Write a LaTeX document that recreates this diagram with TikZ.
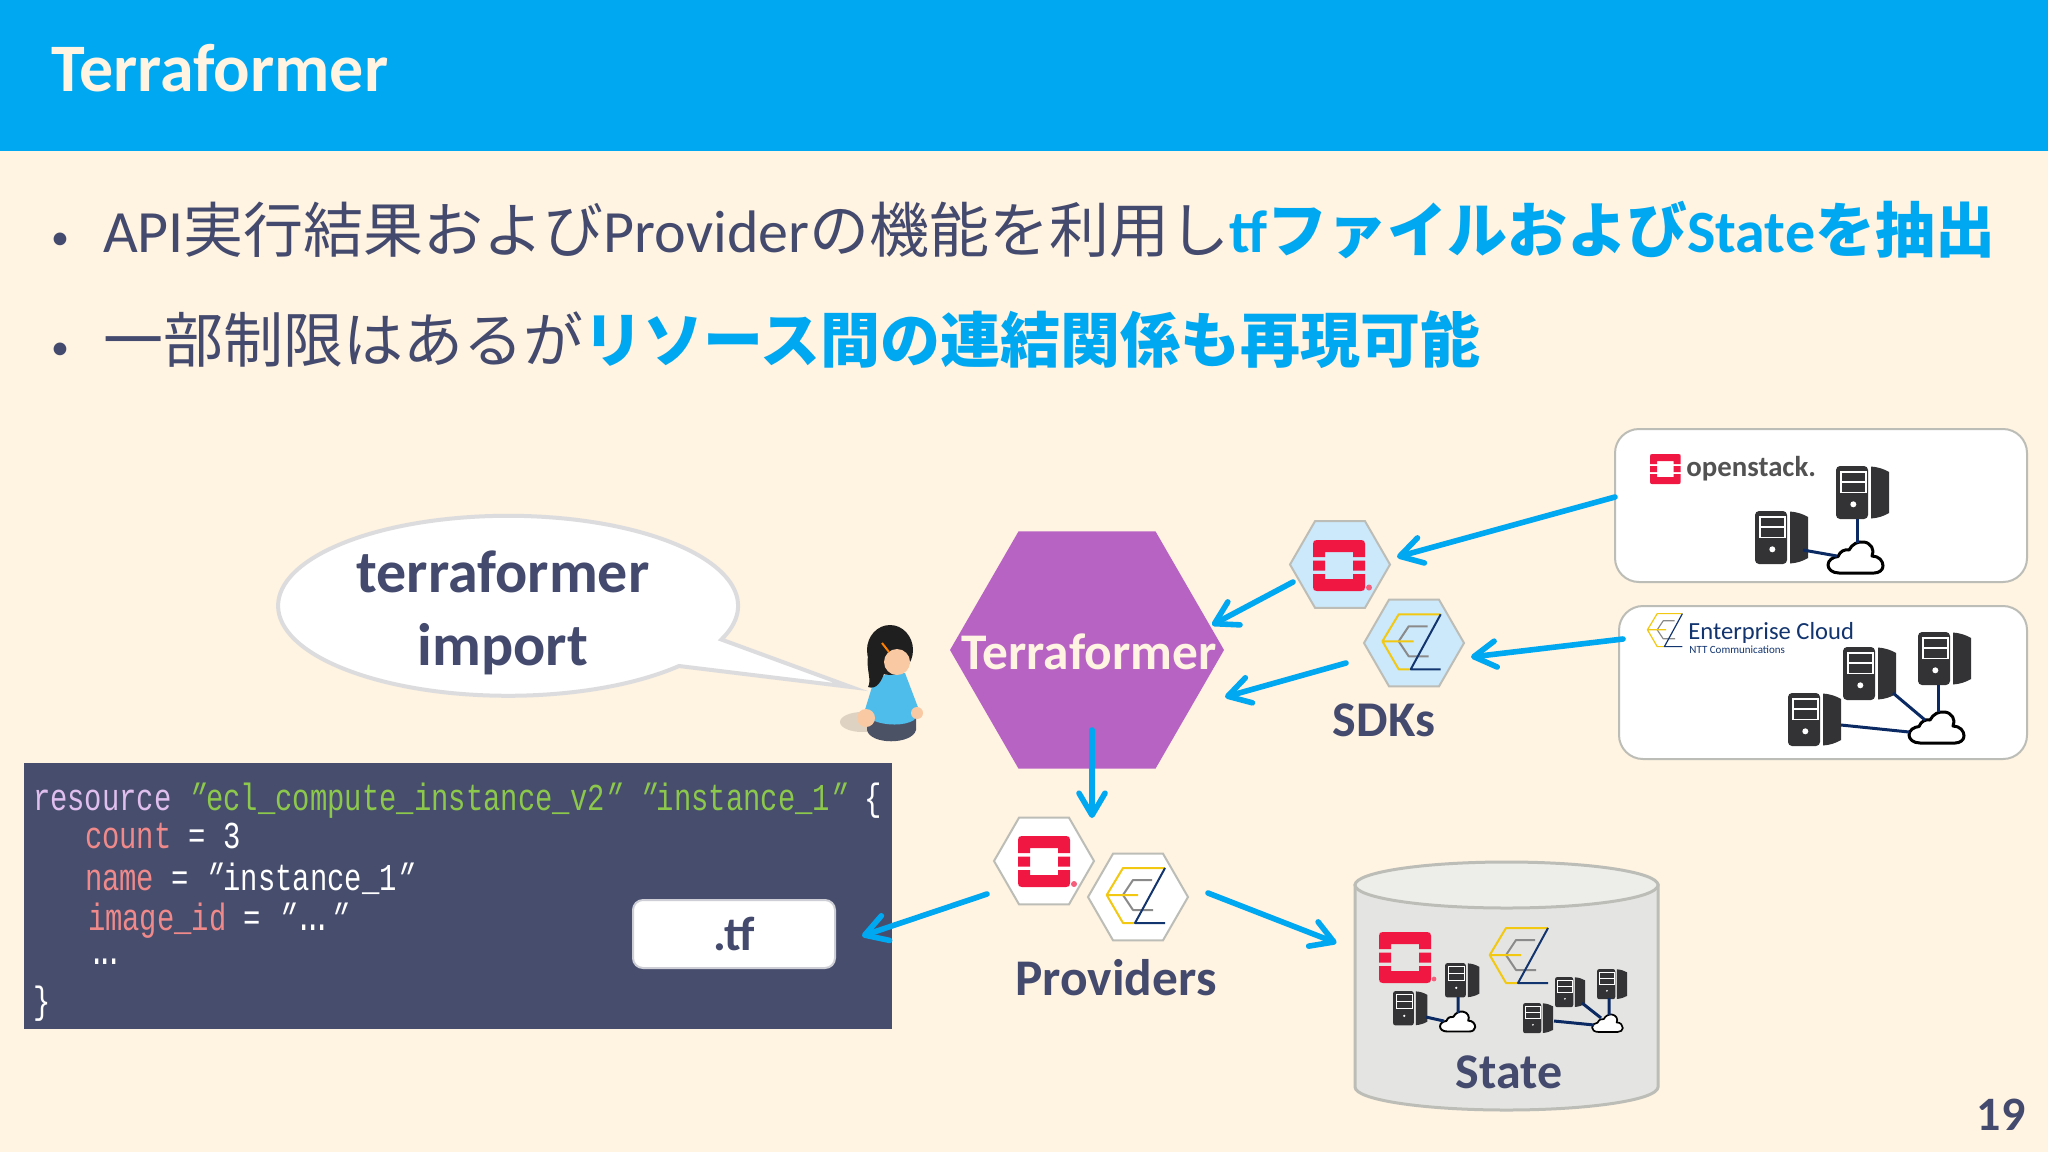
\documentclass[tikz,border=0pt]{standalone}
\usepackage{fontspec}
\usetikzlibrary{arrows.meta,calc,shapes.geometric}
\setmainfont{Carlito}
\newfontfamily\cjk{Noto Sans CJK JP}
\newfontfamily\codef{Liberation Mono}[FakeStretch=0.76]
\newfontfamily\codeq{Liberation Mono}[FakeStretch=0.76,FakeSlant=0.35]
\definecolor{bgc}{HTML}{FFF3E1}
\definecolor{headc}{HTML}{00A7F1}
\definecolor{inkc}{HTML}{444A6D}
\definecolor{hexbl}{HTML}{CCE9FB}
\definecolor{edgec}{HTML}{BDBDB8}
\definecolor{bubc}{HTML}{DCDCDE}
\definecolor{purp}{HTML}{B763C4}
\definecolor{codebg}{HTML}{474D6D}
\definecolor{srvc}{HTML}{333336}
\definecolor{netc}{HTML}{0B2A63}
\definecolor{osred}{HTML}{F01742}
\definecolor{ecy}{HTML}{F2C811}
\definecolor{ecg}{HTML}{8A8A8A}
\definecolor{ecn}{HTML}{12356F}
\definecolor{lila}{HTML}{E0BFEF}
\definecolor{grn}{HTML}{8CC84B}
\definecolor{pnk}{HTML}{F08A8A}
\definecolor{peach}{HTML}{F9C9A4}
\definecolor{shirt}{HTML}{4FBDEC}
\definecolor{skirt}{HTML}{4C5266}
\definecolor{cylb}{HTML}{E4E4E2}
\definecolor{cylt}{HTML}{EDEDEA}
\tikzset{
  arr/.style={draw=headc,line width=2.8pt,line cap=round,-{Straight Barb[length=11pt,width=13pt,round]}},
  net/.style={draw=netc,line width=1.5pt},
  lab/.style={anchor=base,inner sep=0pt,outer sep=0pt,text=inkc,font=\fontsize{25}{25}\selectfont\bfseries},
  bul/.style={anchor=base west,inner sep=0pt,outer sep=0pt,text=inkc,font=\fontsize{30}{30}\selectfont},
  bdot/.style={anchor=base west,inner sep=0pt,outer sep=0pt,text=inkc,font=\fontsize{18}{18}\selectfont},
  code/.style={anchor=base west,inner sep=0pt,outer sep=0pt,text=white,font=\fontsize{19}{19}\codef},
  hexn/.style={regular polygon,regular polygon sides=6,minimum size=50pt,inner sep=0pt,outer sep=0pt,draw=edgec,line width=1pt},
  card/.style={rectangle,rounded corners=12pt,draw=edgec,fill=white,line width=1pt,inner sep=0pt,outer sep=0pt,minimum height=76.5pt}
}
\newcommand{\J}[1]{{\cjk #1}}
\newcommand{\qq}{\kern-.14em{\codeq ″}\kern.14em}
\newcommand{\dts}{.\kern-.22em.\kern-.22em.}
\newcommand{\srv}[4]{%
  \begin{scope}[shift={(#2,#3)},scale=#4]
    \pgfmathsetlengthmacro{\rr}{#4*2pt}%
    \pgfmathsetlengthmacro{\ww}{#4*0.8pt}%
    \coordinate (#1) at (26.5,26.5);
    \fill[srvc,rounded corners=\rr] (0,0) rectangle (32,53);
    \fill[srvc] (35,0.5) .. controls (42,1) and (48,3) .. (53,6) -- (53,47) .. controls (48,50) and (42,52) .. (35,52.5) -- cycle;
    \draw[white,line width=\ww] (5,6) rectangle (30,26.5) (5,16) -- (30,16);
    \fill[white] (17.3,38.3) circle[radius=#4*1.5pt];
  \end{scope}}
\newcommand{\cloudi}[4]{%
  \begin{scope}[shift={(#2,#3)},scale=#4]
    \pgfmathsetlengthmacro{\ww}{#4*1.5pt}%
    \coordinate (#1) at (27,18);
    \draw[black,fill=white,line width=\ww,line join=round] (11,32) .. controls (4,32) and (0,28) .. (0,24) .. controls (0,19) and (5,16) .. (10,15.5) .. controls (12,10) and (17,8) .. (21,9) .. controls (24,3) and (30,0) .. (36,1) .. controls (43,2) and (47,9) .. (44,15) .. controls (51,15) and (55,20) .. (55,25) .. controls (55,29) and (51,32) .. (46,32) -- cycle;
  \end{scope}}
\newcommand{\oslogo}[3]{%
  \begin{scope}[shift={(#1,#2)},scale=#3]
    \fill[osred] (0,17) -- (0,4) .. controls (0,1) and (1,0) .. (4,0) -- (48,0) .. controls (51,0) and (52,1) .. (52,4) -- (52,17) -- (40,17) -- (40,12) -- (12,12) -- (12,17) -- cycle;
    \fill[osred] (0,34) -- (0,47) .. controls (0,50) and (1,51) .. (4,51) -- (48,51) .. controls (51,51) and (52,50) .. (52,47) -- (52,34) -- (40,34) -- (40,39) -- (12,39) -- (12,34) -- cycle;
    \fill[osred] (0,20.5) rectangle (12,30.5) (40,20.5) rectangle (52,30.5);
  \end{scope}}
\newcommand{\eclogo}[3]{%
  \begin{scope}[shift={(#1,#2)},scale=#3]
    \pgfmathsetlengthmacro{\ww}{#3*1pt}%
    \draw[ecg,line width=\ww,line join=round] (46,13) -- (27,13) -- (17,28) -- (27,43) -- (47,43);
    \draw[ecy,line width=\ww,line join=round] (59,1) -- (17,1) -- (0.7,28) -- (17,56) -- (28,56) (0.7,28) -- (32,28);
    \draw[ecn,line width=\ww,line join=round] (59,1) -- (29,56) -- (59,56);
  \end{scope}}
\begin{document}
\begin{tikzpicture}[x=0.5pt,y=-0.5pt]
\useasboundingbox (0,0) rectangle (2048,1152);
\fill[bgc] (0,0) rectangle (2048,1152);
\fill[headc] (0,0) rectangle (2048,151);
\node[anchor=base west,inner sep=0pt,text=bgc,font=\fontsize{34}{34}\selectfont\bfseries] (title) at (51,91) {Terraformer};
\node[bdot] (b1) at (51,249) {•};
\node[bul] (l1) at (103,252) {API\J{実行結果および}Provider\J{の機能を利用し}\textcolor{headc}{\bfseries tf\J{ファイルおよび}State\J{を抽出}}};
\node[bdot] (b2) at (51,359) {•};
\node[bul] (l2) at (103,362) {\J{一部制限はあるが}\textcolor{headc}{\J{\bfseries リソース間の連結関係も再現可能}}};

% speech bubble
\draw[fill=white,draw=bubc,line width=2pt,line join=miter]
  (851,687) -- (679,666) arc[start angle=-42,end angle=-382,x radius=115pt,y radius=45pt] -- cycle;
\node[anchor=center,align=center,inner sep=0pt,text=inkc,font=\fontsize{30}{36.5}\selectfont\bfseries] (bub) at (503,613) {terraformer\\import};

% person
\fill[black,opacity=.13] (862,722) ellipse[x radius=11pt,y radius=5pt];
\fill[skirt] (867,718) -- (867,730) .. controls (870,745) and (912,745) .. (916,730) -- (916,716) -- cycle;
\fill[shirt] (875,677) -- (891,674) -- (905,673) -- (919,710) -- (914,720) .. controls (905,726) and (885,726) .. (872,720) -- (864,713) -- cycle;
\fill[peach] (866,718) circle[radius=4.5pt] (917,713) circle[radius=3pt];
\fill[black!88] (890,650) ellipse[x radius=11.5pt,y radius=12.5pt];
\fill[black!88] (868,655) .. controls (866,670) and (872,680) .. (868,687) .. controls (876,690) and (882,682) .. (885,670) -- cycle;
\fill[peach] (897,662) ellipse[x radius=6.5pt,y radius=6.5pt];
\draw[orange,line width=1pt] (882,643) -- (889,652);

% Terraformer hexagon
\node[regular polygon,regular polygon sides=6,minimum size=137pt,inner sep=0pt,outer sep=0pt,fill=purp] (tf) at (1087,650) {};
\node[anchor=base,inner sep=0pt,text=bgc,font=\fontsize{25.7}{25.7}\selectfont\bfseries] (tft) at (1089,669) {Terraformer};

% SDK hexagons
\node[hexn,fill=hexbl] (hexA) at (1340,564.5) {};
\oslogo{1313}{540}{1}
\fill[osred!70] (1369,587.5) circle[radius=1.5pt];
\node[hexn,fill=hexbl] (hexB) at (1414,643) {};
\eclogo{1381.7}{613.3}{1}
\node[lab] (sdk) at (1384,736) {SDKs};

% provider hexagons
\node[hexn,fill=white] (p1) at (1044,861) {};
\oslogo{1018}{836}{1}
\fill[osred!70] (1074,884) circle[radius=1.5pt];
\node[hexn,fill=white] (p2) at (1138,897) {};
\eclogo{1106}{867}{1}
\node[lab,font=\fontsize{25.7}{25.7}\selectfont\bfseries] (prov) at (1116,995) {Providers};

% cards
\node[card,minimum width=206pt] (box1) at (1821,505.5) {};
\oslogo{1650}{454}{.59}
\node[anchor=base west,inner sep=0pt,text=black!68,font=\fontsize{14.4}{14.4}\selectfont\bfseries] (ostxt) at (1686,476) {openstack.};
\srv{s1}{1755}{511}{1}
\srv{s2}{1836}{466}{1}
\cloudi{c1}{1828}{541}{1}
\draw[net] ($(s1)+(21.5,12.5)$) -- ($(c1)+(-18,-3)$);
\draw[net] ($(s2)+(-5.5,26.5)$) -- ($(c1)+(2,-16)$);

\node[card,minimum width=204pt] (box2) at (1823,682.5) {};
\eclogo{1647}{613}{.6}
\node[anchor=base west,inner sep=0pt,text=ecn,font=\fontsize{12.3}{12.3}\selectfont] (ectxt) at (1688,639) {Enterprise Cloud};
\node[anchor=base west,inner sep=0pt,text=ecn,font=\fontsize{5.5}{5.5}\selectfont] (ntt) at (1689,653) {NTT Communications};
\srv{s3}{1788}{693}{1}
\srv{s4}{1843}{647}{1}
\srv{s5}{1918}{632}{1}
\cloudi{c2}{1909}{711}{1}
\draw[net] ($(s3)+(26.5,5.5)$) -- ($(c2)+(-27,3)$);
\draw[net] ($(s4)+(23.5,19.5)$) -- ($(c2)+(-11,-9)$);
\draw[net] ($(s5)+(-6.5,26.5)$) -- ($(c2)+(2,-17)$);

% State cylinder
\node[rectangle,inner sep=0pt,outer sep=0pt,minimum width=151.5pt,minimum height=124pt] (db) at (1506.5,986) {};
\draw[fill=cylb,draw=edgec,line width=1.5pt] ($(db.center)+(-151.5,-101)$) -- ($(db.center)+(-151.5,101)$) arc[start angle=180,end angle=360,x radius=75.75pt,y radius=11.5pt] -- ($(db.center)+(151.5,-101)$) -- cycle;
\draw[fill=cylt,draw=edgec,line width=1.5pt] ($(db.center)+(0,-101)$) ellipse[x radius=75.75pt,y radius=11.5pt];
\oslogo{1379}{932}{1}
\fill[osred!70] (1434,979) circle[radius=1.2pt];
\eclogo{1489}{927}{1}
\srv{s6}{1393}{991}{.65}
\srv{s7}{1445}{963}{.65}
\cloudi{c3}{1440}{1011}{.64}
\draw[net] ($(s6)+(15.8,8.8)$) -- ($(c3)+(-13.3,-1.5)$);
\draw[net] ($(s7)+(-4.2,16.8)$) -- ($(c3)+(.7,-9.5)$);
\srv{s8}{1523}{1003}{.57}
\srv{s9}{1555}{977}{.57}
\srv{s10}{1597}{969}{.57}
\cloudi{c4}{1592}{1014}{.56}
\draw[net] ($(s8)+(15.9,2.9)$) -- ($(c4)+(-13.1,.9)$);
\draw[net] ($(s9)+(11.9,10.9)$) -- ($(c4)+(-6.1,-6.1)$);
\draw[net] ($(s10)+(-3.1,13.9)$) -- ($(c4)+(1.9,-9.1)$);
\node[lab] (stt) at (1509,1088) {State};

% code block
\node[rectangle,fill=codebg,inner sep=0pt,outer sep=0pt,minimum width=434pt,minimum height=133pt] (cb) at (458,896) {};
\node[code] (c1a) at (33,810) {\textcolor{lila}{resource} \textcolor{grn}{\qq ecl\_compute\_instance\_v2\qq\ \qq instance\_1\qq} \{};
\node[code] (c2a) at (85,848) {\textcolor{pnk}{count} = 3};
\node[code] (c3a) at (85,890) {\textcolor{pnk}{name} = \qq instance\_1\qq};
\node[code] (c4a) at (88,930) {\textcolor{pnk}{image\_id} = \qq\dts\qq};
\node[code] (c5a) at (88,964) {\dts};
\node[code] (c6a) at (33,1013) {\}};
\node[rectangle,rounded corners=5pt,draw=black!15!inkc!25!white,fill=white,line width=1pt,inner sep=0pt,outer sep=0pt,minimum width=101pt,minimum height=34pt] (tfbox) at (734,934) {};
\node[lab,font=\fontsize{24}{24}\selectfont\bfseries] (tfl) at (734,950) {.tf};

% page number
\node[anchor=base east,inner sep=0pt,text=inkc,font=\fontsize{24}{24}\selectfont\bfseries] (pg) at (2026,1130) {19};

% connectors
\draw[arr] ($(box1.west)+(0,-8.5)$) -- ($(hexA.center)+(57,-7.5)$);
\draw[arr] ($(hexA.center)+(-47,17.5)$) -- ($(tf.center)+(125,-25)$);
\draw[arr] ($(box2.west)+(4,-43.5)$) -- ($(hexB.center)+(57,14)$);
\draw[arr] ($(hexB.center)+(-68,20)$) -- ($(tf.center)+(138,47)$);
\draw[arr] ($(tf.center)+(5,80)$) -- ($(p1.center)+(48,-43)$);
\draw[arr] ($(p1.center)+(-57,33)$) -- ($(cb.east)+(-30,40)$);
\draw[arr] ($(p2.center)+(70,-4)$) -- ($(db.west)+(-18.5,-43)$);
\end{tikzpicture}
\end{document}
